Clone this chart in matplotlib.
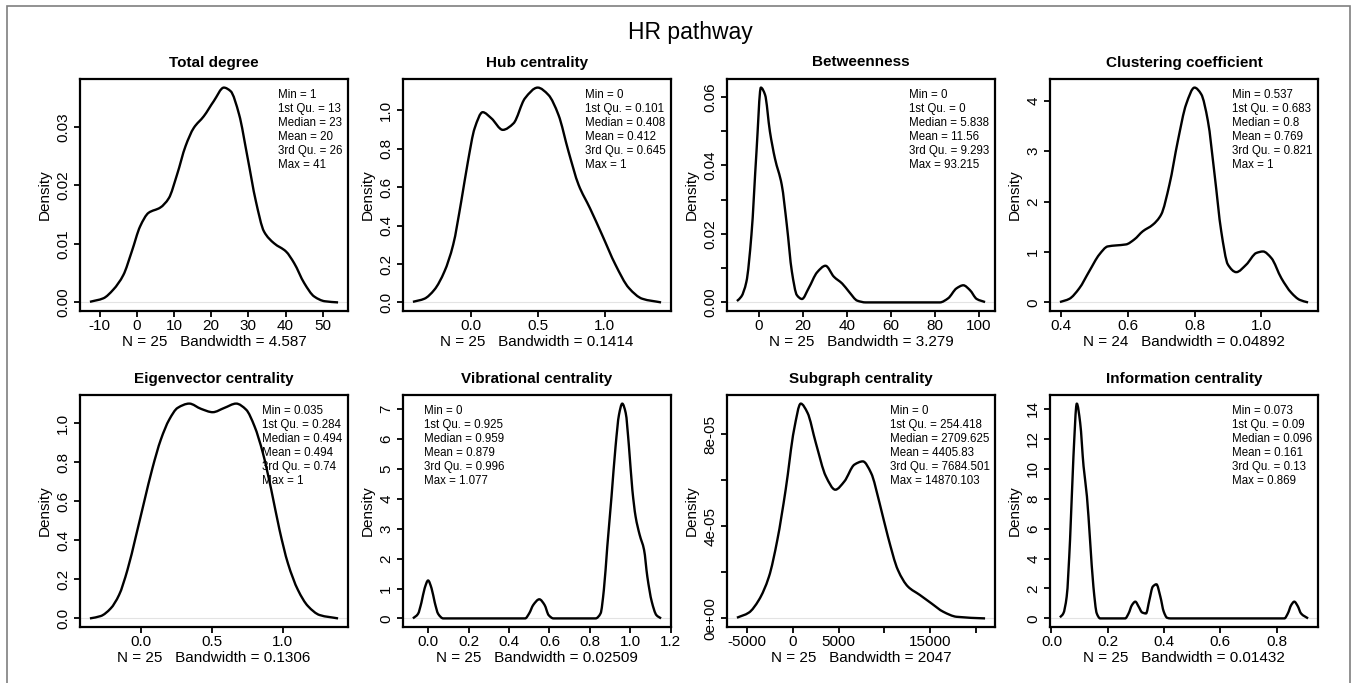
import matplotlib
matplotlib.use("Agg")
import numpy as np
import matplotlib.pyplot as plt
from matplotlib.patches import Rectangle, PathPatch
from matplotlib.path import Path

plt.rcParams['font.family'] = ['Liberation Sans', 'DejaVu Sans']

# ---- data (density curves) ----
deg_x = [-12.6, -9.0, -6.3, -3.6, -1.35, 0.9, 3.15, 6.3, 8.6, 10.8, 13.1, 15.3, 18.0, 20.7,
         23.4, 25.2, 27.5, 29.7, 32.0, 34.2, 36.9, 40.1, 42.3, 45.0, 47.7, 50.5, 54.1]
deg_y = [0.0001, 0.0007, 0.0022, 0.0047, 0.0087, 0.0130, 0.0153, 0.0162, 0.0178, 0.0218,
         0.0267, 0.0298, 0.0318, 0.0344, 0.0367, 0.0361, 0.0321, 0.0250, 0.0173, 0.0121,
         0.0101, 0.0087, 0.0067, 0.0033, 0.0010, 0.0002, 0.0]

hub_x = [-0.43, -0.345, -0.27, -0.195, -0.13, -0.07, -0.02, 0.03, 0.09, 0.155, 0.24, 0.32,
         0.405, 0.5, 0.58, 0.655, 0.73, 0.805, 0.89, 0.98, 1.08, 1.18, 1.28, 1.42]
hub_y = [0.003, 0.019, 0.066, 0.161, 0.30, 0.525, 0.733, 0.906, 0.99, 0.958, 0.898, 0.932,
         1.062, 1.118, 1.08, 0.976, 0.785, 0.612, 0.49, 0.352, 0.196, 0.075, 0.019, 0.0]

btw_x = [-10.0, -8.0, -5.7, -3.4, -1.1, 0.9, 2.8, 5.0, 7.3, 10.4, 12.7, 15.0, 17.3, 19.6,
         22.6, 26.5, 30.3, 34.1, 37.9, 41.0, 44.8, 48.6, 82.3, 86.1, 89.9, 93.0, 96.0, 99.1, 102.9]
btw_y = [0.0004, 0.0017, 0.006, 0.0197, 0.044, 0.0627, 0.0606, 0.0499, 0.042, 0.0343, 0.0226,
         0.009, 0.0021, 0.001, 0.0041, 0.0088, 0.0107, 0.0075, 0.0055, 0.0031, 0.0005, 0.0,
         0.0, 0.0012, 0.0041, 0.005, 0.0036, 0.001, 0.0001]

clu_x = [0.397, 0.425, 0.455, 0.485, 0.515, 0.54, 0.565, 0.595, 0.62, 0.645, 0.675, 0.70,
         0.725, 0.75, 0.775, 0.80, 0.82, 0.84, 0.86, 0.88, 0.90, 0.925, 0.955, 0.985, 1.005,
         1.03, 1.06, 1.09, 1.115, 1.14]
clu_y = [0.007, 0.07, 0.28, 0.62, 0.95, 1.11, 1.13, 1.15, 1.25, 1.41, 1.54, 1.74, 2.34, 3.2,
         3.93, 4.26, 4.13, 3.6, 2.54, 1.41, 0.75, 0.60, 0.75, 0.98, 1.01, 0.88, 0.48, 0.19,
         0.05, 0.0]

eig_x = [-0.358, -0.282, -0.212, -0.153, -0.094, -0.035, 0.024, 0.082, 0.141, 0.2, 0.259,
         0.341, 0.424, 0.506, 0.588, 0.671, 0.741, 0.8, 0.859, 0.918, 0.976, 1.035, 1.106,
         1.176, 1.259, 1.388]
eig_y = [0.0, 0.012, 0.051, 0.12, 0.248, 0.419, 0.598, 0.769, 0.915, 1.017, 1.077, 1.099,
         1.072, 1.055, 1.077, 1.099, 1.068, 0.983, 0.846, 0.658, 0.453, 0.282, 0.145, 0.063,
         0.017, 0.0]

vib_x = [-0.075, -0.05, -0.033, -0.017, 0.0, 0.017, 0.033, 0.05, 0.075, 0.48, 0.5, 0.52,
         0.55, 0.576, 0.596, 0.62, 0.828, 0.853, 0.869, 0.886, 0.907, 0.927, 0.944, 0.96,
         0.977, 0.993, 1.01, 1.026, 1.046, 1.068, 1.084, 1.106, 1.129, 1.152]
vib_y = [0.0, 0.15, 0.53, 1.01, 1.27, 1.01, 0.53, 0.15, 0.0, 0.0, 0.17, 0.45, 0.64, 0.45,
         0.11, 0.0, 0.0, 0.17, 0.95, 2.4, 4.08, 5.76, 6.82, 7.19, 6.88, 5.77, 4.3, 3.41, 2.8,
         2.29, 1.4, 0.56, 0.11, 0.0]

sub_x = [-6140, -4840, -3740, -2640, -1720, -810, 110, 840, 1580, 2490, 3590, 4620, 5610,
         6710, 7630, 8540, 9460, 10370, 11470, 12570, 13860, 15140, 16420, 17890, 21000]
sub_y = [0.03e-5, 0.25e-5, 0.80e-5, 1.81e-5, 3.41e-5, 5.59e-5, 8.2e-5, 9.33e-5, 8.93e-5,
         7.62e-5, 6.17e-5, 5.59e-5, 5.95e-5, 6.68e-5, 6.82e-5, 6.31e-5, 5.01e-5, 3.56e-5,
         2.10e-5, 1.38e-5, 1.02e-5, 0.65e-5, 0.29e-5, 0.07e-5, 0.0]

inf_x = [0.030, 0.042, 0.054, 0.066, 0.078, 0.090, 0.102, 0.114, 0.126, 0.137, 0.149, 0.161,
         0.173, 0.262, 0.274, 0.286, 0.298, 0.310, 0.322, 0.336, 0.348, 0.360, 0.373, 0.387,
         0.399, 0.411, 0.423, 0.828, 0.840, 0.852, 0.863, 0.875, 0.887, 0.912]
inf_y = [0.07, 0.33, 1.45, 5.25, 10.8, 14.35, 13.06, 10.16, 8.15, 5.25, 2.12, 0.33, 0.0, 0.0,
         0.33, 0.89, 1.12, 0.78, 0.4, 0.33, 1.23, 2.12, 2.28, 1.45, 0.45, 0.04, 0.0, 0.0, 0.33,
         0.89, 1.12, 0.83, 0.33, 0.0]

titles = ["Total degree", "Hub centrality", "Betweenness", "Clustering coefficient",
          "Eigenvector centrality", "Vibrational centrality", "Subgraph centrality",
          "Information centrality"]
n_obs = [25, 25, 25, 24, 25, 25, 25, 25]
bandwidths = ["4.587", "0.1414", "3.279", "0.04892", "0.1306", "0.02509", "2047", "0.01432"]

# summary stats: Min, 1st Qu., Median, Mean, 3rd Qu., Max
deg_stats = ["1", "13", "23", "20", "26", "41"]
hub_stats = ["0", "0.101", "0.408", "0.412", "0.645", "1"]
btw_stats = ["0", "0", "5.838", "11.56", "9.293", "93.215"]
clu_stats = ["0.537", "0.683", "0.8", "0.769", "0.821", "1"]
eig_stats = ["0.035", "0.284", "0.494", "0.494", "0.74", "1"]
vib_stats = ["0", "0.925", "0.959", "0.879", "0.996", "1.077"]
sub_stats = ["0", "254.418", "2709.625", "4405.83", "7684.501", "14870.103"]
inf_stats = ["0.073", "0.09", "0.096", "0.161", "0.13", "0.869"]

# axis ticks / labels
x_ticks = [
    ([-10, 0, 10, 20, 30, 40, 50], ["-10", "0", "10", "20", "30", "40", "50"]),
    ([0.0, 0.5, 1.0], ["0.0", "0.5", "1.0"]),
    ([0, 20, 40, 60, 80, 100], ["0", "20", "40", "60", "80", "100"]),
    ([0.4, 0.6, 0.8, 1.0], ["0.4", "0.6", "0.8", "1.0"]),
    ([0.0, 0.5, 1.0], ["0.0", "0.5", "1.0"]),
    ([0.0, 0.2, 0.4, 0.6, 0.8, 1.0, 1.2], ["0.0", "0.2", "0.4", "0.6", "0.8", "1.0", "1.2"]),
    ([-5000, 0, 5000, 10000, 15000, 20000], ["-5000", "0", "5000", "", "15000", ""]),
    ([0.0, 0.2, 0.4, 0.6, 0.8], ["0.0", "0.2", "0.4", "0.6", "0.8"]),
]
y_ticks = [
    ([0, 0.01, 0.02, 0.03], ["0.00", "0.01", "0.02", "0.03"]),
    ([0, 0.2, 0.4, 0.6, 0.8, 1.0], ["0.0", "0.2", "0.4", "0.6", "0.8", "1.0"]),
    ([0, 0.01, 0.02, 0.03, 0.04, 0.05, 0.06], ["0.00", "", "0.02", "", "0.04", "", "0.06"]),
    ([0, 1, 2, 3, 4], ["0", "1", "2", "3", "4"]),
    ([0, 0.2, 0.4, 0.6, 0.8, 1.0], ["0.0", "0.2", "0.4", "0.6", "0.8", "1.0"]),
    ([0, 1, 2, 3, 4, 5, 6, 7], ["0", "1", "2", "3", "4", "5", "6", "7"]),
    ([0, 2e-5, 4e-5, 6e-5, 8e-5], ["0e+00", "", "4e-05", "", "8e-05"]),
    ([0, 2, 4, 6, 8, 10, 12, 14], ["0", "2", "4", "6", "8", "10", "12", "14"]),
]

curves = [(deg_x, deg_y), (hub_x, hub_y), (btw_x, btw_y), (clu_x, clu_y),
          (eig_x, eig_y), (vib_x, vib_y), (sub_x, sub_y), (inf_x, inf_y)]
stats = [deg_stats, hub_stats, btw_stats, clu_stats, eig_stats, vib_stats, sub_stats, inf_stats]
stat_names = ["Min", "1st Qu.", "Median", "Mean", "3rd Qu.", "Max"]

# layout (pixels of the 1356x683 figure)
W, H = 1356, 683
col_left = [80, 403, 727, 1050]
row_top = [79, 395]
box_w, box_h = 268, 232
text_xpos = [0.74, 0.68, 0.68, 0.68, 0.68, 0.08, 0.61, 0.68]


def smooth_path(xs, ys):
    # bezier path through the read points, monotone tangents so no overshoot
    x = np.asarray(xs, float)
    y = np.asarray(ys, float)
    h = np.diff(x)
    d = np.diff(y) / h
    m = np.zeros_like(x)
    m[0], m[-1] = d[0], d[-1]
    for k in range(1, len(x) - 1):
        if d[k - 1] * d[k] > 0:
            w1 = 2 * h[k] + h[k - 1]
            w2 = h[k] + 2 * h[k - 1]
            m[k] = (w1 + w2) / (w1 / d[k - 1] + w2 / d[k])
    verts = [(x[0], y[0])]
    codes = [Path.MOVETO]
    for k in range(len(x) - 1):
        verts += [(x[k] + h[k] / 3, y[k] + m[k] * h[k] / 3),
                  (x[k + 1] - h[k] / 3, y[k + 1] - m[k + 1] * h[k] / 3),
                  (x[k + 1], y[k + 1])]
        codes += [Path.CURVE4] * 3
    return Path(verts, codes)


fig = plt.figure(figsize=(W / 100, H / 100), dpi=100)

# grey frame around the figure (bottom edge is cut off in the original)
fig.add_artist(Rectangle((7 / W, -0.05), (1350 - 7) / W, 1.05 - 6 / H,
                         transform=fig.transFigure, fill=False,
                         edgecolor='#7f7f7f', linewidth=1.2))

fig.text(690 / W, 1 - 33 / H, "HR pathway", fontsize=16.5, ha='center', va='center')

for i in range(8):
    r, c = divmod(i, 4)
    ax = fig.add_axes([col_left[c] / W, 1 - (row_top[r] + box_h) / H, box_w / W, box_h / H])
    xs, ys = curves[i]
    ax.axhline(0, color='#e3e3e3', linewidth=0.8, zorder=1)
    ax.add_patch(PathPatch(smooth_path(xs, ys), fill=False, edgecolor='black',
                           linewidth=1.7, joinstyle='round', zorder=2))
    xr = max(xs) - min(xs)
    ax.set_xlim(min(xs) - 0.04 * xr, max(xs) + 0.04 * xr)
    ax.set_ylim(-0.04 * max(ys), 1.04 * max(ys))

    xt, xl = x_ticks[i]
    yt, yl = y_ticks[i]
    ax.set_xticks(xt)
    ax.set_xticklabels(xl)
    ax.set_yticks(yt)
    ax.set_yticklabels(yl, rotation=90, va='center')
    ax.tick_params(axis='both', direction='out', length=4.5, width=1.3, labelsize=11)
    ax.tick_params(axis='x', pad=1.5)
    ax.tick_params(axis='y', pad=2.5)
    for sp in ax.spines.values():
        sp.set_linewidth(1.6)

    ax.set_title(titles[i], fontsize=11, fontweight='bold', pad=9)
    ax.set_xlabel("N = %d   Bandwidth = %s" % (n_obs[i], bandwidths[i]), fontsize=11, labelpad=1)
    ax.set_ylabel("Density", fontsize=11, labelpad=3)

    txt = "\n".join("%s = %s" % (n, v) for n, v in zip(stat_names, stats[i]))
    ax.text(text_xpos[i], 0.955, txt, transform=ax.transAxes, fontsize=8.3,
            ha='left', va='top', linespacing=1.22)

fig.savefig("out.png", dpi=100)
